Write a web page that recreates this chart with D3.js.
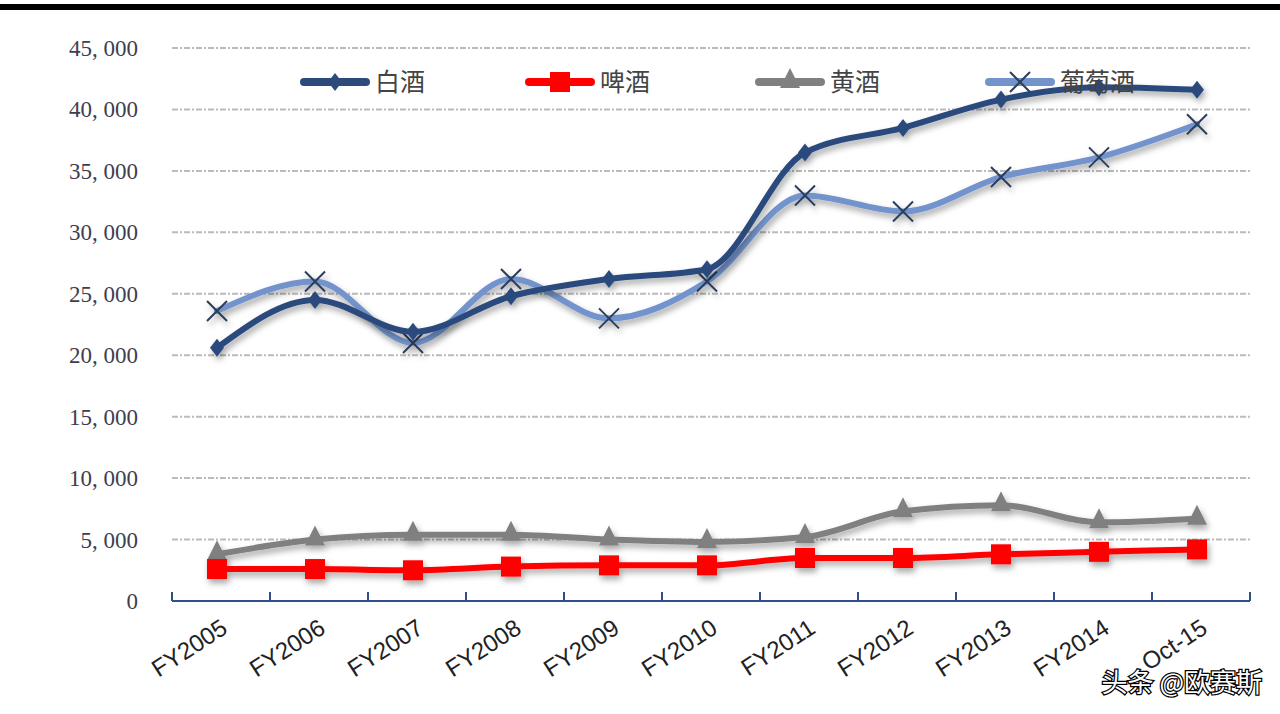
<!DOCTYPE html>
<html><head><meta charset="utf-8">
<script src="https://cdn.jsdelivr.net/npm/d3@7"></script>
<style>body{margin:0;background:#fff}svg{display:block}</style>
</head><body><svg id="chart" width="1280" height="714"></svg>
<script>
const CATEGORIES = ["FY2005","FY2006","FY2007","FY2008","FY2009","FY2010","FY2011","FY2012","FY2013","FY2014","Oct-15"];
const SERIES_NAMES = ["白酒","啤酒","黄酒","葡萄酒"];
const BAIJIU = [20600,24500,21900,24800,26200,27000,36500,38500,40800,41800,41600];
const PIJIU = [2600,2600,2500,2800,2900,2900,3500,3500,3800,4000,4200];
const HUANGJIU = [3800,5000,5400,5400,5000,4800,5200,7300,7800,6400,6700];
const PUTAOJIU = [23600,26000,21000,26200,23000,26000,33000,31700,34500,36100,38800];
const Y_TICKS = [0,5000,10000,15000,20000,25000,30000,35000,40000,45000];

const svg = d3.select("#chart");
const defs = svg.append("defs");
const f = defs.append("filter").attr("id","sh").attr("x","-10%").attr("y","-10%").attr("width","120%").attr("height","130%");
f.append("feDropShadow").attr("dx",2).attr("dy",4).attr("stdDeviation",3).attr("flood-color","#000").attr("flood-opacity",0.35);

svg.append("rect").attr("x",0).attr("y",4).attr("width",1280).attr("height",6).attr("fill","#000");

const x = d3.scaleBand().domain(CATEGORIES).range([172,1250]);
const y = d3.scaleLinear().domain([0,45000]).range([601,48]);

svg.append("g").selectAll("line").data(Y_TICKS.slice(1)).join("line")
  .attr("x1",172).attr("x2",1250).attr("y1",d=>y(d)).attr("y2",d=>y(d))
  .attr("stroke","#bbb").attr("stroke-width",2).attr("stroke-dasharray","6,2,2,2");

svg.append("g").selectAll("text").data(Y_TICKS).join("text")
  .attr("x",138).attr("y",d=>y(d)+8).attr("text-anchor","end")
  .attr("font-family","Liberation Serif, serif").attr("font-size",23).attr("fill","#3e3e4e")
  .text(d=>d===0?"0":d3.format(",")(d).replace(",",", "));

const xa = svg.append("g");
xa.append("line").attr("x1",172).attr("x2",1250).attr("y1",601).attr("y2",601).attr("stroke","#2f4f86").attr("stroke-width",2);
const edges = CATEGORIES.map(c=>x(c)).concat([1250]);
xa.selectAll(".t").data(edges).join("line").attr("x1",d=>d).attr("x2",d=>d).attr("y1",592).attr("y2",601).attr("stroke","#2f4f86").attr("stroke-width",2);
xa.selectAll("text").data(CATEGORIES).join("text")
  .attr("transform",d=>`translate(${x(d)+x.bandwidth()/2+8},632) rotate(-33)`)
  .attr("text-anchor","end").attr("font-family","Liberation Sans, Arial, sans-serif").attr("font-size",24).attr("fill","#222")
  .text(d=>d);

const cx = d=>x(d)+x.bandwidth()/2-4;
const series = [
  {name:SERIES_NAMES[2], data:HUANGJIU, color:"#808080", marker:"tri"},
  {name:SERIES_NAMES[1], data:PIJIU, color:"#ff0000", marker:"sq"},
  {name:SERIES_NAMES[3], data:PUTAOJIU, color:"#7293cb", marker:"x"},
  {name:SERIES_NAMES[0], data:BAIJIU, color:"#2c4a7c", marker:"dia"}
];
const line = d3.line().x((d,i)=>cx(CATEGORIES[i])).y(d=>y(d)).curve(d3.curveMonotoneX);

function marker(g, type, color, px, py){
  if(type==="sq") g.append("rect").attr("x",px-10).attr("y",py-10).attr("width",20).attr("height",20).attr("fill",color);
  else if(type==="tri") g.append("path").attr("d",`M${px},${py-14}L${px+10},${py+6}L${px-10},${py+6}Z`).attr("fill",color);
  else if(type==="dia") g.append("path").attr("d",`M${px},${py-9}L${px+7},${py}L${px},${py+9}L${px-7},${py}Z`).attr("fill",color);
  else g.append("path").attr("d",`M${px-10},${py-10}L${px+10},${py+10}M${px+10},${py-10}L${px-10},${py+10}`).attr("stroke","#2c3e5c").attr("stroke-width",2);
}

series.forEach(s=>{
  const g = svg.append("g").attr("filter","url(#sh)");
  g.append("path").attr("d",line(s.data)).attr("fill","none").attr("stroke",s.color).attr("stroke-width",6).attr("stroke-linecap","round");
  s.data.forEach((v,i)=>marker(g,s.marker,s.color,cx(CATEGORIES[i]),y(v)));
});

const legend = [
  {name:SERIES_NAMES[0], color:"#2c4a7c", marker:"dia", x:300},
  {name:SERIES_NAMES[1], color:"#ff0000", marker:"sq", x:525},
  {name:SERIES_NAMES[2], color:"#808080", marker:"tri", x:755},
  {name:SERIES_NAMES[3], color:"#7293cb", marker:"x", x:985}
];
legend.forEach(l=>{
  const g = svg.append("g");
  g.append("text").attr("x",l.x+75).attr("y",91).attr("font-family","Noto Sans CJK SC, sans-serif").attr("font-size",25).attr("fill","#444").text(l.name);
  g.append("line").attr("x1",l.x+4).attr("x2",l.x+66).attr("y1",82).attr("y2",82).attr("stroke",l.color).attr("stroke-width",8).attr("stroke-linecap","round");
  marker(g,l.marker,l.color,l.x+35,82);
});

svg.append("text").attr("x",1262).attr("y",692).attr("text-anchor","end").attr("font-family","Noto Sans CJK SC, sans-serif")
  .attr("font-size",26).attr("fill","#fff").attr("stroke","#000").attr("stroke-width",2.5).attr("paint-order","stroke").text("头条 @欧赛斯");
</script></body></html>
